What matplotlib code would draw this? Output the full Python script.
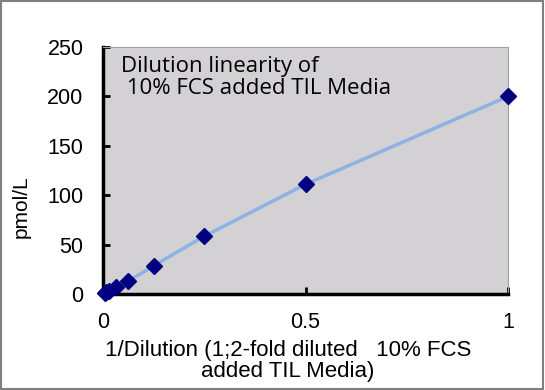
import matplotlib
matplotlib.use("Agg")
import matplotlib.pyplot as plt
from matplotlib.patches import Rectangle

x_vals = [0.00390625, 0.0078125, 0.015625, 0.03125, 0.0625, 0.125, 0.25, 0.5, 1.0]
y_vals = [0.8, 1.6, 3.4, 7.0, 13.0, 28.5, 58.5, 111.0, 200.0]
x_ticks = [0, 0.5, 1]
x_tick_labels = ["0", "0.5", "1"]
y_ticks = [0, 50, 100, 150, 200, 250]

plt.rcParams['font.family'] = ['Liberation Sans', 'DejaVu Sans']

fig = plt.figure(figsize=(5.45, 3.9), dpi=100)
fig.patches.append(Rectangle((0.002, 0.003), 0.995, 0.994, transform=fig.transFigure,
                             fill=False, edgecolor='#808080', linewidth=1.5))
ax = fig.add_axes([103/545, 1-294/390, (508-103)/545, (294-47)/390])
ax.set_facecolor('#d3d1d3')
ax.plot(x_vals, y_vals, color='#8db3e2', linewidth=2.5, zorder=2)
ax.plot(x_vals, y_vals, linestyle='none', marker='D', markersize=8.5,
        color='#000080', zorder=3, clip_on=False)
ax.set_xlim(0, 1)
ax.set_ylim(0, 250)
ax.set_xticks(x_ticks)
ax.set_xticklabels(x_tick_labels)
ax.set_yticks(y_ticks)
ax.tick_params(axis='both', direction='in', length=5, width=2, labelsize=15.5, color='black')
ax.tick_params(axis='x', pad=13)
ax.tick_params(axis='y', pad=14)
for s in ['left', 'bottom']:
    ax.spines[s].set_linewidth(2.5)
    ax.spines[s].set_color('black')
for s in ['top', 'right']:
    ax.spines[s].set_linewidth(0.8)
    ax.spines[s].set_color('#a0a0a0')
ax.set_ylabel('pmol/L', fontsize=15, labelpad=10)
ax.yaxis.set_label_coords(-0.178, 0.352)
ax.set_xlabel('1/Dilution (1;2-fold diluted   10% FCS\nadded TIL Media)', fontsize=16,
              linespacing=1.05, labelpad=7)
ax.xaxis.set_label_coords(0.457, -0.185)
ax.text(0.044, 0.962, 'Dilution linearity of\n 10% FCS added TIL Media', transform=ax.transAxes,
        fontsize=16, family=['Open Sans', 'DejaVu Sans'], va='top', ha='left', linespacing=1.05)
fig.savefig('out.png', dpi=100)
